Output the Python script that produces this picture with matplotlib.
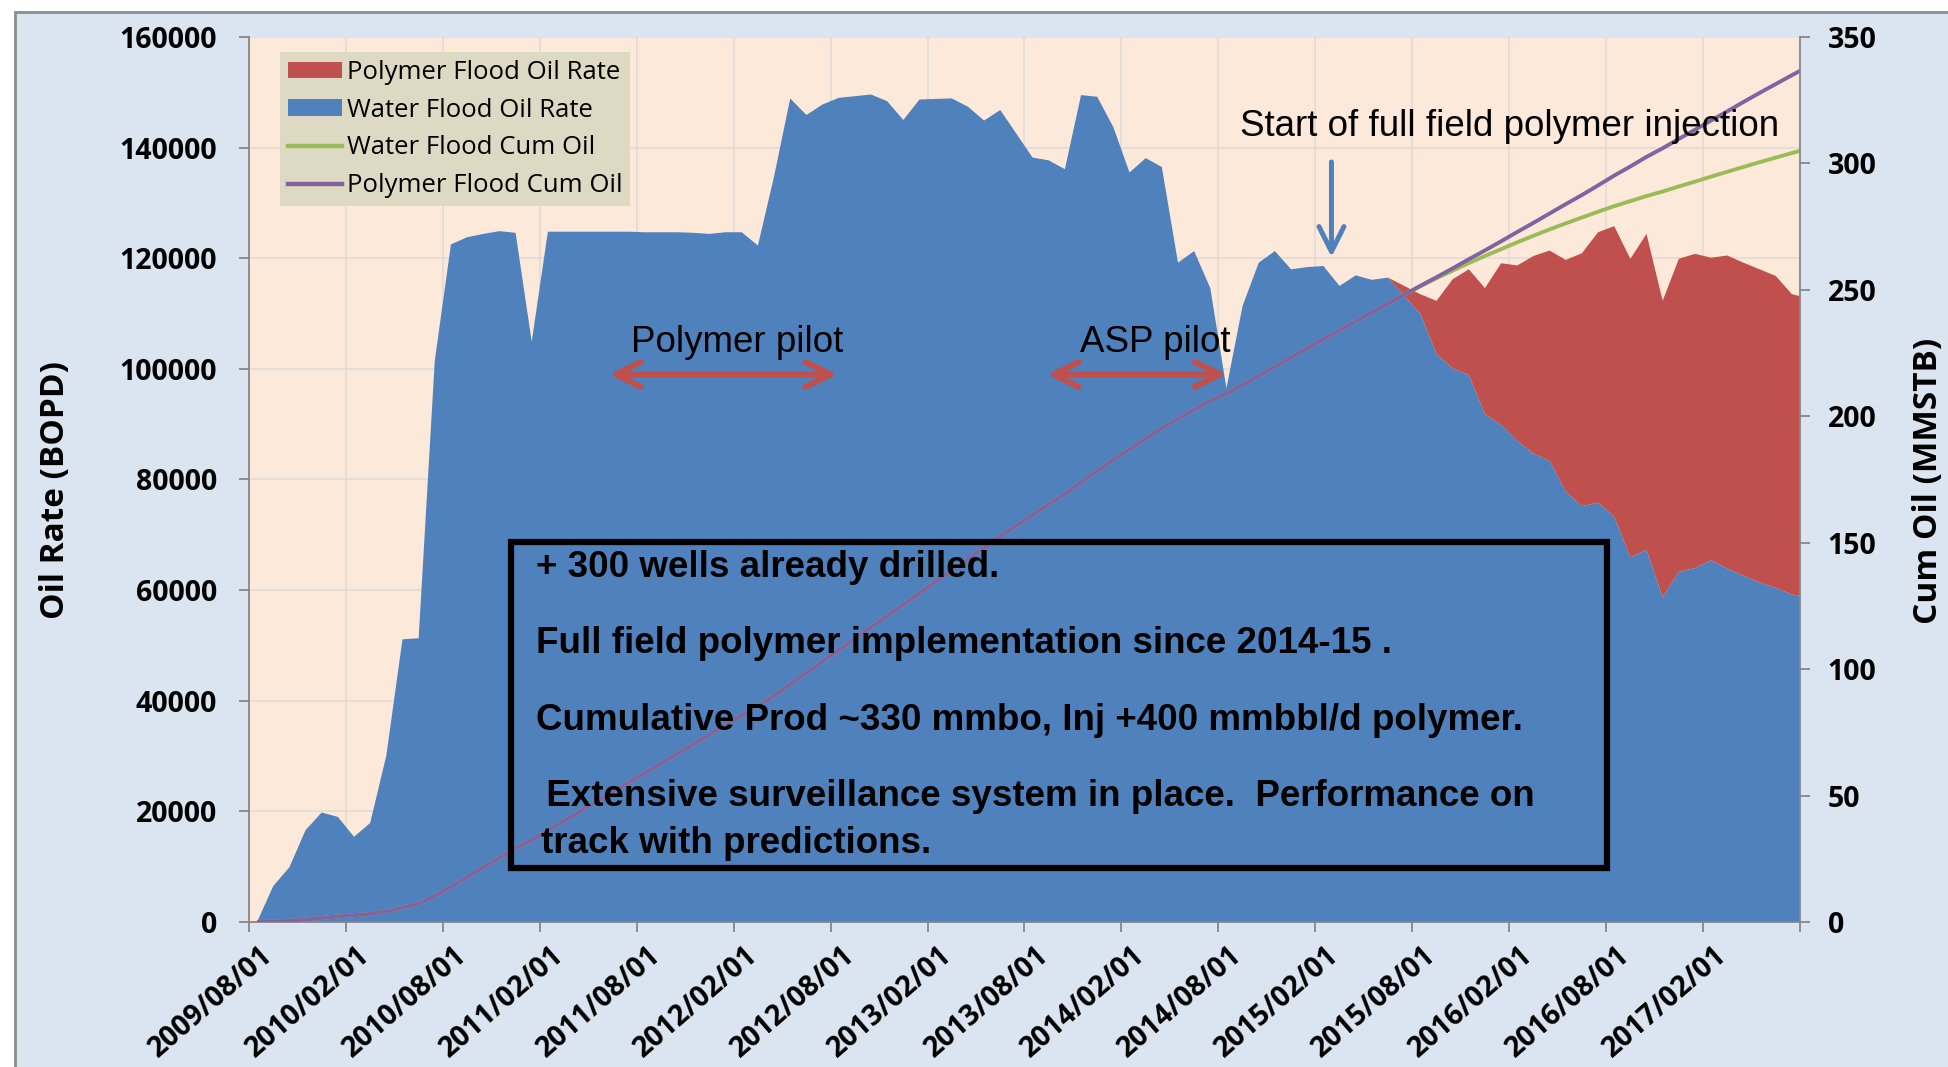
import matplotlib
matplotlib.use('Agg')
import matplotlib.pyplot as plt
import matplotlib.transforms as mtransforms
from matplotlib.patches import Rectangle, Patch
from matplotlib.lines import Line2D
import numpy as np

plt.rcParams['font.family'] = ['Open Sans', 'DejaVu Sans']

# monthly data, first month = 2009/08, points sit at mid month
water_rate = [0, 6500, 9900, 16600, 19800, 19000, 15400, 17900, 30100, 51100,
              51300, 101500, 122500, 123800, 124400, 124900, 124600, 104900, 124800, 124800,
              124800, 124800, 124800, 124800, 124700, 124700, 124700, 124600, 124400, 124700,
              124700, 122300, 134800, 148900, 145900, 147800, 149000, 149300, 149600, 148400,
              145000, 148700, 148800, 148900, 147400, 144900, 146800, 142500, 138200, 137700,
              136100, 149500, 149200, 143700, 135500, 138100, 136500, 119200, 121300, 114600,
              96500, 111400, 119200, 121300, 118000, 118400, 118600, 115000, 116900, 116100,
              116500, 113200, 110000, 102700, 100100, 98900, 91800, 89900, 87000, 84700,
              83400, 77800, 75200, 75800, 73300, 65900, 67300, 58700, 63300, 64000,
              65400, 63900, 62600, 61400, 60400, 59200, 58800]

polymer_rate = [0] * 71 + [1800, 3500, 9600, 16100, 19100, 22800, 29200, 31700, 35700, 38000,
                           41900, 45700, 48900, 52500, 54000, 57100, 53600, 56600, 56800, 54700,
                           56600, 56600, 56600, 56400, 54300, 54000]

polymer_cum = [0.0, 0.2, 0.5, 1.0, 1.6, 2.2, 2.7, 3.2, 4.1, 5.7,
               7.2, 10.3, 14.0, 17.8, 21.6, 25.4, 29.2, 32.4, 36.2, 40.0,
               43.8, 47.6, 51.4, 55.2, 58.9, 62.7, 66.5, 70.3, 74.1, 77.9,
               81.7, 85.4, 89.5, 94.0, 98.5, 103.0, 107.5, 112.1, 116.6, 121.1,
               125.5, 130.1, 134.6, 139.1, 143.6, 148.0, 152.5, 156.8, 161.0, 165.2,
               169.3, 173.9, 178.4, 182.8, 186.9, 191.1, 195.3, 198.9, 202.6, 206.1,
               209.0, 212.4, 216.0, 219.7, 223.3, 226.9, 230.5, 234.0, 237.6, 241.1,
               244.6, 248.1, 251.6, 255.0, 258.5, 262.1, 265.6, 269.2, 272.9, 276.5,
               280.2, 283.9, 287.5, 291.3, 295.2, 298.8, 302.6, 306.0, 309.7, 313.3,
               317.0, 320.6, 324.3, 327.9, 331.4, 334.9, 338.3]

water_cum = polymer_cum[:71] + [248.1, 251.4, 254.6, 257.6, 260.6, 263.4, 266.1, 268.8, 271.4, 273.9,
                                276.3, 278.6, 280.9, 283.1, 285.1, 287.1, 288.9, 290.9, 292.8, 294.8,
                                296.7, 298.6, 300.5, 302.3, 304.1, 305.9]

tick_labels = ['2009/08/01', '2010/02/01', '2010/08/01', '2011/02/01', '2011/08/01',
               '2012/02/01', '2012/08/01', '2013/02/01', '2013/08/01', '2014/02/01',
               '2014/08/01', '2015/02/01', '2015/08/01', '2016/02/01', '2016/08/01',
               '2017/02/01', '']

BLUE = '#4F81BD'
RED = '#C0504D'
GREEN = '#9BBB59'
PURPLE = '#8064A2'
AXIS_GRAY = '#868686'

x = np.arange(len(water_rate)) + 0.5

fig = plt.figure(figsize=(19.49, 10.67), dpi=100)
fig.patch.set_facecolor('white')
# chart area (light blue) with border on top / left only visible
fig.add_artist(Rectangle((15 / 1949, -0.1), 1.2, 1.1 - 12 / 1067, transform=fig.transFigure,
                         facecolor='#DBE5F1', edgecolor='#8C8C8C', lw=2, zorder=0))

ax = fig.add_axes([249 / 1949, 1 - 922 / 1067, 1551 / 1949, 885 / 1067])
ax.set_facecolor('#FDE9D9')
ax.stackplot(x, water_rate, polymer_rate, colors=[BLUE, RED], lw=0)
ax.set_xlim(0, 96)
ax.set_ylim(0, 160000)
ax.set_yticks(np.arange(0, 160001, 20000))
ax.set_xticks(np.arange(0, 97, 6))
ax.set_xticklabels(tick_labels, rotation=41, ha='right', va='center', rotation_mode='anchor',
                   fontweight='bold', fontsize=20.5)
ax.grid(True, color='#E3DCD6', lw=1.3)
ax.set_axisbelow(True)
for s in ['top', 'right']:
    ax.spines[s].set_visible(False)
for s in ['left', 'bottom']:
    ax.spines[s].set_color(AXIS_GRAY)
    ax.spines[s].set_linewidth(1.3)
ax.tick_params(axis='y', length=7, width=1.3, color=AXIS_GRAY, labelsize=20.5, pad=16)
ax.tick_params(axis='x', length=7, width=1.3, color=AXIS_GRAY, pad=14)
for lab in ax.get_yticklabels():
    lab.set_fontweight('bold')
offset = mtransforms.ScaledTranslation(0.2, 0, fig.dpi_scale_trans)
for lab in ax.get_xticklabels():
    lab.set_transform(lab.get_transform() + offset)

ax2 = ax.twinx()
ax2.plot(x, water_cum, color=GREEN, lw=2.8, solid_capstyle='butt')
ax2.plot(x, polymer_cum, color=PURPLE, lw=2.8, solid_capstyle='butt')
ax2.set_ylim(0, 350)
ax2.set_yticks(np.arange(0, 351, 50))
for s in ['top', 'left', 'bottom']:
    ax2.spines[s].set_visible(False)
ax2.spines['right'].set_color(AXIS_GRAY)
ax2.spines['right'].set_linewidth(1.3)
ax2.tick_params(axis='y', length=7, width=1.3, color=AXIS_GRAY, labelsize=20.5, pad=13)
for lab in ax2.get_yticklabels():
    lab.set_fontweight('bold')

# axis titles
fig.text(56 / 1949, 1 - 490 / 1067, 'Oil Rate (BOPD)', rotation=90, ha='center', va='center',
         fontsize=24, fontweight='bold')
fig.text(1929 / 1949, 1 - 481 / 1067, 'Cum Oil (MMSTB)', rotation=90, ha='center', va='center',
         fontsize=24, fontweight='bold')

# legend
handles = [Patch(facecolor=RED, edgecolor='none'), Patch(facecolor=BLUE, edgecolor='none'),
           Line2D([], [], color=GREEN, lw=3.2), Line2D([], [], color=PURPLE, lw=3.2)]
labels = ['Polymer Flood Oil Rate', 'Water Flood Oil Rate', 'Water Flood Cum Oil', 'Polymer Flood Cum Oil']
leg = ax2.legend(handles, labels, loc='upper left', bbox_to_anchor=(0.02, 0.983), frameon=True,
                 facecolor='#DDD9C3', edgecolor='none', framealpha=1, fancybox=False, fontsize=18.5,
                 handlelength=2.1, handleheight=0.6, labelspacing=0.5, borderpad=0.3,
                 handletextpad=0.2, borderaxespad=0)
leg.set_zorder(20)

# annotations (month, BOPD coordinates)
T = ax.transData
ax2.text(30.2, 104700, 'Polymer pilot', transform=T, ha='center', va='center',
         fontsize=26.5, family='Liberation Sans', zorder=30)
ax2.annotate('', xy=(22.3, 99000), xytext=(36.4, 99000), xycoords=T, textcoords=T,
             arrowprops=dict(arrowstyle='<->,head_length=0.9,head_width=0.45', color=RED, lw=4.3,
                             mutation_scale=20, shrinkA=0, shrinkB=0), zorder=30)
ax2.text(56.1, 104700, 'ASP pilot', transform=T, ha='center', va='center',
         fontsize=26.5, family='Liberation Sans', zorder=30)
ax2.annotate('', xy=(49.4, 99000), xytext=(60.5, 99000), xycoords=T, textcoords=T,
             arrowprops=dict(arrowstyle='<->,head_length=0.9,head_width=0.45', color=RED, lw=4.3,
                             mutation_scale=20, shrinkA=0, shrinkB=0), zorder=30)
ax2.text(78.05, 143900, 'Start of full field polymer injection', transform=T, ha='center', va='center',
         fontsize=26.5, family='Liberation Sans', zorder=30)
ax2.annotate('', xy=(67.0, 120200), xytext=(67.0, 137400), xycoords=T, textcoords=T,
             arrowprops=dict(arrowstyle='->,head_length=0.9,head_width=0.45', color=BLUE, lw=3.6,
                             mutation_scale=20, shrinkA=0, shrinkB=0), zorder=30)

box = Rectangle((16.2, 9760), 84.05 - 16.2, 68700 - 9760, transform=T, fill=False,
                edgecolor='black', lw=4.5, zorder=30)
ax2.add_artist(box)
box_lines = [(17.76, 64000, '+ 300 wells already drilled.'),
             (17.76, 50260, 'Full field polymer implementation since 2014-15 .'),
             (17.76, 36340, 'Cumulative Prod ~330 mmbo, Inj +400 mmbbl/d polymer.'),
             (17.76, 22600, ' Extensive surveillance system in place.  Performance on'),
             (18.05, 14280, 'track with predictions.')]
for bx, by, txt in box_lines:
    ax2.text(bx, by, txt, transform=T, ha='left', va='center', fontsize=26.5,
             fontweight='bold', family='Liberation Sans', zorder=31)

fig.savefig('out.png', dpi=100)
